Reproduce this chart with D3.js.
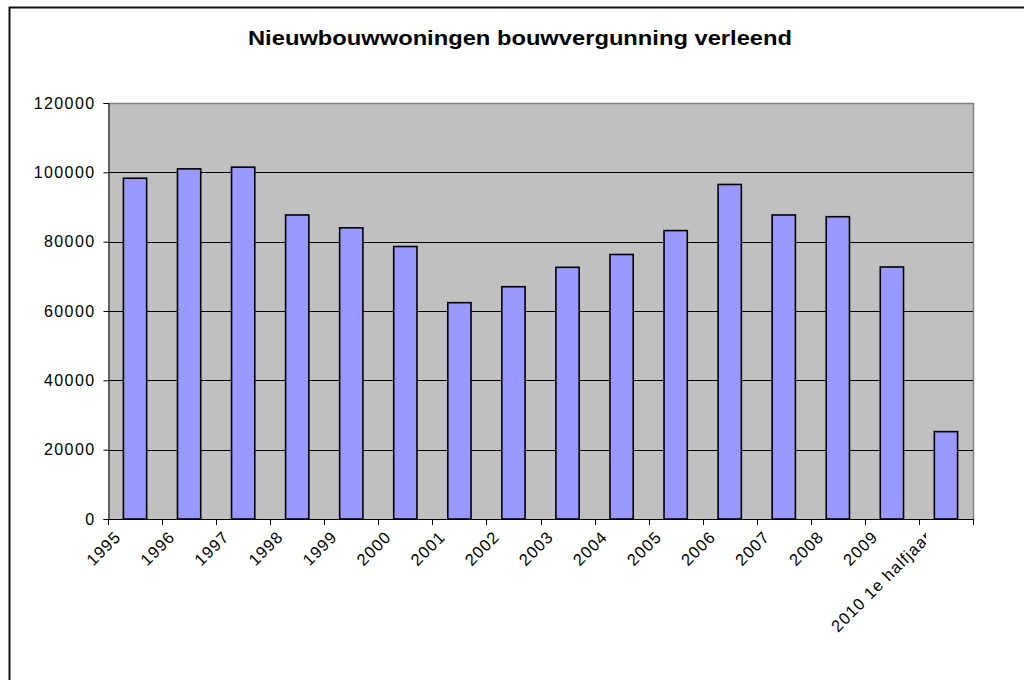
<!DOCTYPE html>
<html>
<head>
<meta charset="utf-8">
<script src="https://cdn.jsdelivr.net/npm/d3@7"></script>
<style>
  body { margin: 0; background: #fff; }
  text { font-family: Arial, "Liberation Sans", sans-serif; }
</style>
</head>
<body>
<script>
const width = 1024;
const height = 680;

// data
const years = ['1995','1996','1997','1998','1999','2000','2001','2002','2003',
               '2004','2005','2006','2007','2008','2009','2010 1e halfjaar'];
const woningen = [98300, 101000, 101500, 87700, 84000, 78600, 62400, 67000, 72600,
                  76300, 83200, 96500, 87700, 87200, 72700, 25200];
const yTicks = [0, 20000, 40000, 60000, 80000, 100000, 120000];

const margin = {left: 108, top: 103, right: 1024 - 973, bottom: 680 - 519};

const svg = d3.select('body').append('svg')
    .attr('width', width)
    .attr('height', height);

// outer chart border (right/bottom edges fall off the picture)
svg.append('rect')
    .attr('x', 9.5).attr('y', 7.5)
    .attr('width', 1030).attr('height', 690)
    .attr('fill', 'none')
    .attr('stroke', '#111')
    .attr('stroke-width', 2);

const x = d3.scaleBand()
    .domain(years)
    .range([margin.left, width - margin.right]);

const y = d3.scaleLinear()
    .domain([0, 120000])
    .range([height - margin.bottom, margin.top]);

// plot area
svg.append('rect')
    .attr('x', margin.left).attr('y', margin.top)
    .attr('width', x.range()[1] - x.range()[0])
    .attr('height', y(0) - y(120000))
    .attr('fill', '#c0c0c0');

// gray top + right edges of the plot area
svg.append('path')
    .attr('d', `M${margin.left},${margin.top + 0.5}H${x.range()[1] + 0.5}V${y(0)}`)
    .attr('fill', 'none')
    .attr('stroke', '#808080')
    .attr('stroke-width', 1.5);

// gridlines
svg.append('g')
  .selectAll('line')
  .data(yTicks.filter(d => d > 0 && d < 120000))
  .enter().append('line')
    .attr('x1', margin.left).attr('x2', x.range()[1])
    .attr('y1', d => Math.round(y(d)) + 0.5)
    .attr('y2', d => Math.round(y(d)) + 0.5)
    .attr('stroke', '#000')
    .attr('stroke-width', 1);

// bars
const barW = x.bandwidth() * 0.43;
svg.append('g')
  .selectAll('rect')
  .data(years)
  .enter().append('rect')
    .attr('x', (d) => x(d) + (x.bandwidth() - barW) / 2)
    .attr('y', (d, i) => y(woningen[i]))
    .attr('width', barW)
    .attr('height', (d, i) => y(0) - y(woningen[i]))
    .attr('fill', '#9999ff')
    .attr('stroke', '#000')
    .attr('stroke-width', 1.6);

// y axis
const yAxis = d3.axisLeft(y)
    .tickValues(yTicks)
    .tickSize(5)
    .tickPadding(8)
    .tickFormat(d3.format('d'));

const ga = svg.append('g')
    .attr('transform', `translate(${margin.left + 0.5},0)`)
    .call(yAxis);
ga.select('.domain').attr('stroke', '#000');
ga.selectAll('.tick line').attr('stroke', '#000');
ga.selectAll('.tick text')
    .attr('font-size', 16)
    .attr('letter-spacing', 1.4)
    .attr('fill', '#000');

// x axis: ticks at category boundaries
const bounds = years.map(d => x(d)).concat([x.range()[1]]);
const gx = svg.append('g');
gx.append('line')
    .attr('x1', margin.left).attr('x2', x.range()[1])
    .attr('y1', y(0) + 0.5).attr('y2', y(0) + 0.5)
    .attr('stroke', '#000');
gx.selectAll('line.tk')
  .data(bounds)
  .enter().append('line')
    .attr('class', 'tk')
    .attr('x1', d => Math.round(d) + 0.5).attr('x2', d => Math.round(d) + 0.5)
    .attr('y1', y(0)).attr('y2', y(0) + 6)
    .attr('stroke', '#000');

// the last label is cut off on the right in the original
svg.append('clipPath').attr('id', 'lblclip')
  .append('rect')
    .attr('x', 0).attr('y', 0)
    .attr('width', 926).attr('height', height);

gx.append('g')
    .attr('clip-path', 'url(#lblclip)')
  .selectAll('text')
  .data(years)
  .enter().append('text')
    .attr('text-anchor', 'end')
    .attr('font-size', 16.5)
    .attr('letter-spacing', 1)
    .attr('fill', '#000')
    .attr('transform', d => `translate(${x(d) + 14},${y(0) + 19}) rotate(-45)`)
    .text(d => d);

// title
svg.append('text')
    .attr('x', 520).attr('y', 45)
    .attr('text-anchor', 'middle')
    .attr('font-size', 20)
    .attr('font-weight', 'bold')
    .attr('textLength', 544)
    .attr('lengthAdjust', 'spacingAndGlyphs')
    .attr('fill', '#000')
    .text('Nieuwbouwwoningen bouwvergunning verleend');
</script>
</body>
</html>
